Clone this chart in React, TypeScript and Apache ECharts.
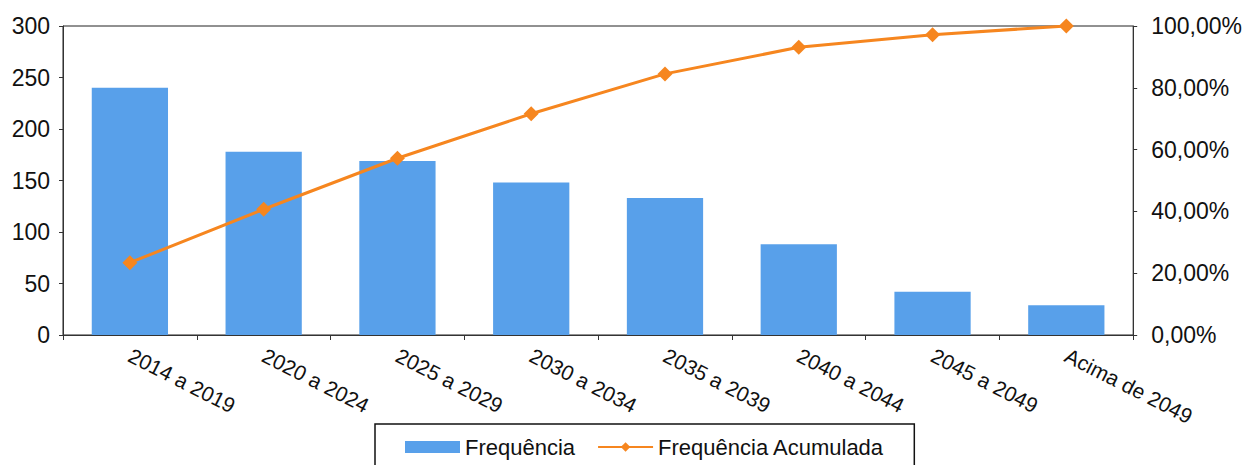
import React, { useEffect, useRef } from "react";
import * as echarts from "echarts";

const categories = [
  "2014 a 2019",
  "2020 a 2024",
  "2025 a 2029",
  "2030 a 2034",
  "2035 a 2039",
  "2040 a 2044",
  "2045 a 2049",
  "Acima de 2049",
];
const frequencia = [240, 178, 169, 148, 133, 88, 42, 29];
const acumulada = [23.4, 40.7, 57.2, 71.6, 84.5, 93.1, 97.2, 100];
const leftTicks = { min: 0, max: 300, interval: 50 };
const rightTicks = { min: 0, max: 100, interval: 20 };

export default function App() {
  const ref = useRef<HTMLDivElement>(null);
  useEffect(() => {
    document.body.style.margin = "0";
    const chart = echarts.init(ref.current!, null, { renderer: "svg" });
    const font = "Liberation Sans, Arial, sans-serif";
    chart.setOption({
      animation: false,
      backgroundColor: "#ffffff",
      textStyle: { fontFamily: font },
      grid: {
        left: 63,
        right: 110,
        top: 26,
        bottom: 130,
        show: true,
        borderColor: "#222",
        borderWidth: 1,
      },
      legend: {
        top: 424,
        left: 375,
        padding: [12, 30, 20, 30],
        itemGap: 22,
        borderColor: "#111",
        borderWidth: 1.5,
        itemWidth: 55,
        itemHeight: 12,
        textStyle: { fontSize: 22, color: "#111", fontFamily: font },
        data: [
          { name: "Frequência", icon: "rect" },
          { name: "Frequência Acumulada" },
        ],
      },
      xAxis: {
        type: "category",
        data: categories,
        axisLine: { lineStyle: { color: "#333" } },
        axisTick: { show: true, length: 5, lineStyle: { color: "#333" } },
        axisLabel: {
          rotate: -27,
          fontSize: 21,
          color: "#111",
          margin: 19,
          interval: 0,
        },
      },
      yAxis: [
        {
          type: "value",
          ...leftTicks,
          axisLine: { show: true, lineStyle: { color: "#333" } },
          axisTick: { show: true, length: 4, lineStyle: { color: "#333" } },
          splitLine: { show: false },
          axisLabel: { fontSize: 23, color: "#111", margin: 13 },
        },
        {
          type: "value",
          ...rightTicks,
          position: "right",
          axisLine: { show: true, lineStyle: { color: "#333" } },
          axisTick: { show: true, length: 4, lineStyle: { color: "#333" } },
          splitLine: { show: false },
          axisLabel: {
            fontSize: 23,
            color: "#111",
            margin: 18,
            formatter: (v: number) => v.toFixed(2).replace(".", ",") + "%",
          },
        },
      ],
      series: [
        {
          name: "Frequência",
          type: "bar",
          data: frequencia,
          barWidth: "57%",
          itemStyle: { color: "#58a0ea" },
        },
        {
          name: "Frequência Acumulada",
          type: "line",
          yAxisIndex: 1,
          data: acumulada,
          symbol: "diamond",
          symbolSize: 15,
          lineStyle: { color: "#f6861f", width: 3 },
          itemStyle: { color: "#f6861f" },
        },
      ],
    });
    return () => chart.dispose();
  }, []);
  return <div ref={ref} style={{ width: 1245, height: 465 }} />;
}
